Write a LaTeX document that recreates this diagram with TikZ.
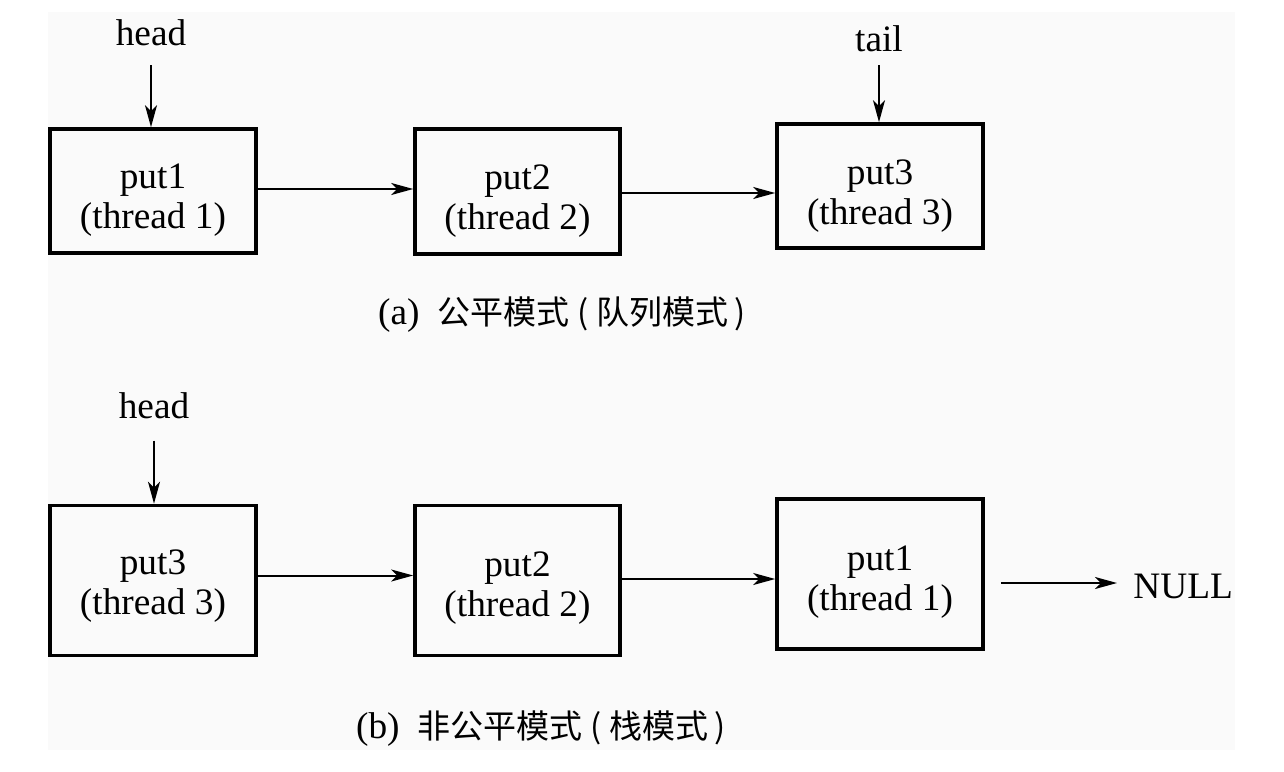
\documentclass[tikz,border=0pt]{standalone}
\usepackage{fontspec}
\setmainfont{Liberation Serif}
\newfontfamily\cjk{Noto Sans CJK SC}
\usetikzlibrary{arrows.meta}
\definecolor{bgg}{RGB}{250,250,250}
\begin{document}
\begin{tikzpicture}[x=0.5pt,y=-0.5pt,
  box/.style={draw,line width=1.8pt,minimum width=103pt,inner sep=0pt},
  boxtext/.style={align=center,inner sep=0pt,font=\fontsize{18.65}{20}\selectfont},
  lbl/.style={font=\fontsize{18.65}{22}\selectfont,inner sep=0pt},
  arr/.style={line width=1pt,-{Stealth[length=11pt,width=6pt,inset=3pt]}},
  captext/.style={inner sep=0pt}]
\useasboundingbox (0,0) rectangle (1284,771);
\fill[bgg] (48,12) rectangle (1235,750);
% (a)
\node[box,minimum height=62pt] (a1) at (153,191) {};
\node[box,minimum width=102.5pt,minimum height=62.5pt] (a2) at (517.5,191.5) {};
\node[box,minimum height=62pt] (a3) at (880,186) {};
\node[boxtext] (a1t) at ([yshift=-4.75pt]a1.center) {put1\\(thread 1)};
\node[boxtext] (a2t) at ([yshift=-4.75pt]a2.center) {put2\\(thread 2)};
\node[boxtext] (a3t) at ([yshift=-5.25pt]a3.center) {put3\\(thread 3)};
\node[lbl] (ha) at (151,33) {head};
\node[lbl] (ta) at (879,39) {tail};
\draw[arr,shorten <=9.25pt] (ha.south) -- (ha.south |- a1.north);
\draw[arr,shorten <=6.25pt] (ta.south) -- (ta.south |- a3.north);
\draw[arr] ([yshift=1pt]a1.east) -- ([yshift=1pt]a1.east -| a2.west);
\draw[arr] ([yshift=-0.75pt]a2.east) -- ([yshift=-0.75pt]a2.east -| a3.west);
\node[captext] (capa) at (562,315) {\fontsize{18.65}{20}\selectfont(a)\hspace{9pt}{\cjk\fontsize{16.5}{20}\selectfont 公平模式\hspace{4pt}(\hspace{4pt}队列模式\hspace{3pt})}};
% (b)
\node[box,minimum height=75pt] (b1) at (153,580.5) {};
\node[box,minimum width=102.5pt,minimum height=75pt] (b2) at (517.5,580.5) {};
\node[box,minimum height=75pt] (b3) at (880,574) {};
\node[boxtext] (b1t) at ([yshift=-2.75pt]b1.center) {put3\\(thread 3)};
\node[boxtext] (b2t) at ([yshift=-4pt]b2.center) {put2\\(thread 2)};
\node[boxtext] (b3t) at ([yshift=-4pt]b3.center) {put1\\(thread 1)};
\node[lbl] (hb) at (154,406) {head};
\node[lbl,anchor=west] (null) at (1133,586) {NULL};
\draw[arr,shorten <=10.6pt] (hb.south) -- (hb.south |- b1.north);
\draw[arr] ([yshift=2.5pt]b1.east) -- ([yshift=2.5pt]b1.east -| b2.west);
\draw[arr] ([yshift=0.75pt]b2.east) -- ([yshift=0.75pt]b2.east -| b3.west);
\draw[arr,shorten <=8pt,shorten >=8pt] ([yshift=-4.5pt]b3.east) -- ([yshift=-4.5pt]b3.east -| null.west);
\node[captext] (capb) at (541,729) {\fontsize{18.65}{20}\selectfont(b)\hspace{9pt}{\cjk\fontsize{16.5}{20}\selectfont 非公平模式\hspace{4pt}(\hspace{4pt}栈模式\hspace{3pt})}};
\end{tikzpicture}
\end{document}
